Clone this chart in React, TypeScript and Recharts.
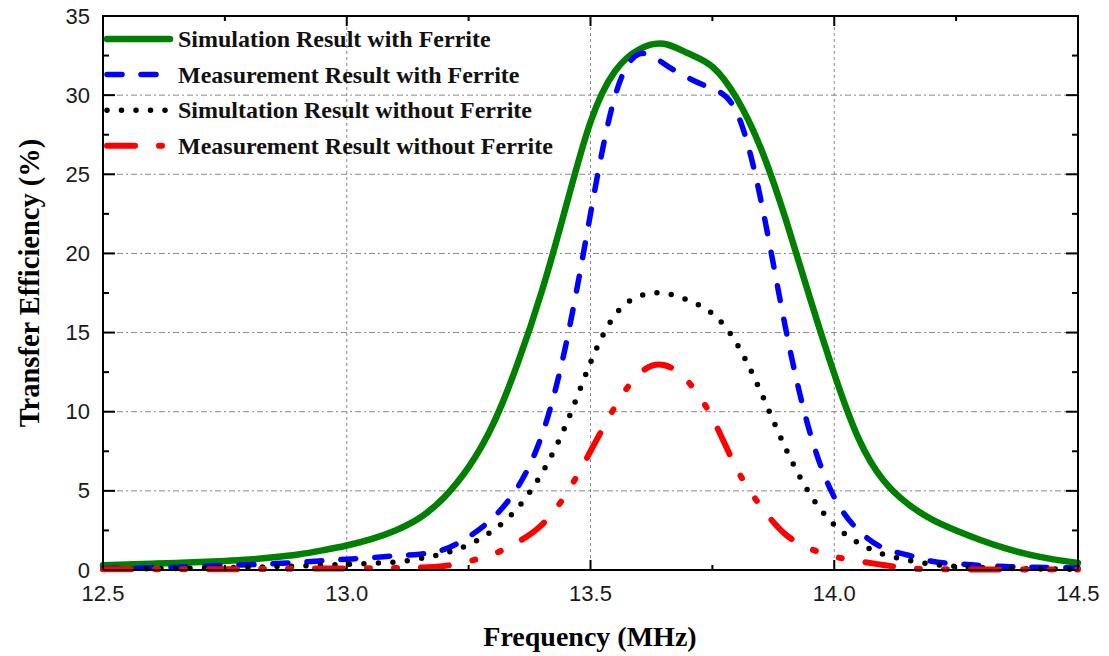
import React from "react";
import { Line, LineChart, ReferenceLine, XAxis, YAxis } from "recharts";

// frequency samples (MHz)
const freqs = [
  12.5, 12.55, 12.6, 12.65, 12.7, 12.75, 12.8, 12.85, 12.9, 12.95,
  13.0, 13.05, 13.1, 13.15, 13.2, 13.25, 13.3, 13.35, 13.4, 13.45,
  13.5, 13.55, 13.6, 13.65, 13.7, 13.75, 13.8, 13.85, 13.9, 13.95,
  14.0, 14.05, 14.1, 14.15, 14.2, 14.25, 14.3, 14.35, 14.4, 14.45, 14.5,
];

const simWithFerrite = [
  0.3, 0.35, 0.4, 0.45, 0.5, 0.57, 0.66, 0.8, 0.98, 1.24,
  1.55, 1.95, 2.5, 3.3, 4.6, 6.5, 9.2, 13.0, 17.6, 23.0,
  28.3, 31.5, 32.9, 33.25, 32.65, 31.8, 29.8, 26.6, 22.2, 17.2,
  12.4, 8.3, 5.7, 4.2, 3.2, 2.5, 1.9, 1.38, 0.97, 0.67, 0.45,
];

const measWithFerrite = [
  0.1, 0.12, 0.15, 0.18, 0.22, 0.28, 0.33, 0.4, 0.48, 0.58,
  0.68, 0.78, 0.9, 1.0, 1.3, 2.1, 3.3, 5.2, 8.5, 14.3,
  22.5, 29.9, 32.6, 32.0, 31.1, 30.4, 28.9, 23.3, 15.3, 8.7,
  4.6, 2.5, 1.4, 0.95, 0.55, 0.4, 0.28, 0.22, 0.18, 0.15, 0.12,
];

const simWithoutFerrite = [
  0.05, 0.06, 0.08, 0.1, 0.12, 0.15, 0.18, 0.21, 0.25, 0.3,
  0.35, 0.42, 0.5, 0.72, 1.05, 1.6, 2.5, 3.9, 6.1, 9.2,
  13.1, 16.1, 17.3, 17.5, 17.05, 16.2, 14.3, 11.2, 7.7, 4.8,
  2.85, 1.7, 1.0, 0.63, 0.37, 0.22, 0.14, 0.1, 0.08, 0.06, 0.05,
];

const measWithoutFerrite = [
  0.05, 0.05, 0.05, 0.05, 0.05, 0.05, 0.06, 0.07, 0.08, 0.09,
  0.1, 0.11, 0.12, 0.15, 0.25, 0.55, 1.0, 1.75, 2.85, 4.8,
  7.5, 10.3, 12.4, 12.95, 11.9, 9.6, 6.4, 4.0, 2.25, 1.35,
  0.85, 0.55, 0.32, 0.12, 0.05, 0.04, 0.03, 0.03, 0.03, 0.03, 0.03,
];

const xTicks = [12.5, 12.75, 13, 13.25, 13.5, 13.75, 14, 14.25, 14.5];
const xMajor = [12.5, 13, 13.5, 14, 14.5];
const xGrid = [13, 13.5, 14];
const yTicks = [0, 2.5, 5, 7.5, 10, 12.5, 15, 17.5, 20, 22.5, 25, 27.5, 30, 32.5, 35];
const yMajor = [0, 5, 10, 15, 20, 25, 30, 35];
const yGrid = [5, 10, 15, 20, 25, 30];
const xMin = 12.5;
const xMax = 14.5;
const yMax = 35;

const series = [
  { key: "s1", name: "Simulation Result with Ferrite", values: simWithFerrite, color: "#008000", width: 6.5, dash: undefined },
  { key: "s2", name: "Measurement Result with Ferrite", values: measWithFerrite, color: "#0000ff", width: 5.5, dash: "15 19" },
  { key: "s3", name: "Simultation Result without Ferrite", values: simWithoutFerrite, color: "#000000", width: 5.5, dash: "0 14.5" },
  { key: "s4", name: "Measurement Result without Ferrite", values: measWithoutFerrite, color: "#ff0000", width: 6, dash: "28 24 3 24 3 24" },
];

const data = freqs.map((f, i) => {
  const row: Record<string, number> = { f };
  series.forEach((s) => (row[s.key] = s.values[i]));
  return row;
});

// chart layout
const W = 1109;
const H = 656;
const margin = { top: 16, right: 31, bottom: 56, left: 3 };
const yAxisWidth = 100;
const xAxisHeight = 30;
const plot = {
  left: margin.left + yAxisWidth,
  top: margin.top,
  right: W - margin.right,
  bottom: H - margin.bottom - xAxisHeight,
};
const px = (v: number) => plot.left + ((v - xMin) / (xMax - xMin)) * (plot.right - plot.left);
const py = (v: number) => plot.bottom - (v / yMax) * (plot.bottom - plot.top);

const tickFont = { fontFamily: "'Liberation Sans', Arial, sans-serif", fontSize: 22, fill: "#1a1a1a" };

function BottomTick({ x, y, payload }: any) {
  const major = xMajor.includes(payload.value);
  return (
    <g>
      <rect x={x - 1} y={y - (major ? 10 : 5)} width={2} height={major ? 10 : 5} fill="#000" />
      {major && (
        <text x={x} y={y + 23} textAnchor="middle" dominantBaseline="central" {...tickFont}>
          {payload.value.toFixed(1)}
        </text>
      )}
    </g>
  );
}

function LeftTick({ x, y, payload }: any) {
  const major = yMajor.includes(payload.value);
  return (
    <g>
      <rect x={x} y={y - 1} width={major ? 12 : 6} height={2} fill="#000" />
      {major && (
        <text x={x - 13} y={y} textAnchor="end" dominantBaseline="central" {...tickFont}>
          {payload.value}
        </text>
      )}
    </g>
  );
}

const serif = "'Liberation Serif', 'Times New Roman', serif";

export default function App() {
  return (
    <div style={{ position: "absolute", left: 0, top: 0, width: W, height: H, background: "#fff" }}>
      <LineChart width={W} height={H} data={data} margin={margin}>
        {xGrid.map((v) => (
          <ReferenceLine key={"x" + v} x={v} stroke="#888" strokeWidth={1} strokeDasharray="3 3" />
        ))}
        {yGrid.map((v) => (
          <ReferenceLine key={"y" + v} y={v} stroke="#888" strokeWidth={1} strokeDasharray="6 3 2 3" />
        ))}
        <XAxis
          dataKey="f"
          type="number"
          domain={[xMin, xMax]}
          ticks={xTicks}
          interval={0}
          height={xAxisHeight}
          tickSize={0}
          tickMargin={0}
          tick={BottomTick}
          axisLine={{ stroke: "#000", strokeWidth: 2 }}
        />
        <YAxis
          type="number"
          domain={[0, yMax]}
          ticks={yTicks}
          interval={0}
          width={yAxisWidth}
          tickSize={0}
          tickMargin={0}
          tick={LeftTick}
          axisLine={{ stroke: "#000", strokeWidth: 2 }}
        />
        {series.map((s) => (
          <Line
            key={s.key}
            type="natural"
            dataKey={s.key}
            name={s.name}
            stroke={s.color}
            strokeWidth={s.width}
            strokeDasharray={s.dash}
            strokeLinecap="round"
            dot={false}
            activeDot={false}
            isAnimationActive={false}
          />
        ))}
      </LineChart>
      {/* top and right frame edges as an HTML box border */}
      <div
        style={{
          position: "absolute",
          left: plot.left - 1,
          top: plot.top - 1,
          width: plot.right - plot.left,
          height: plot.bottom - plot.top,
          borderTop: "2px solid #000",
          borderRight: "2px solid #000",
          pointerEvents: "none",
        }}
      />
      <svg width={W} height={H} style={{ position: "absolute", left: 0, top: 0, pointerEvents: "none" }}>
        {xTicks.map((v) => (
          <rect key={"tt" + v} x={px(v) - 1} y={plot.top} width={2} height={xMajor.includes(v) ? 10 : 5} fill="#000" />
        ))}
        {yTicks.map((v) => (
          <rect
            key={"rt" + v}
            x={plot.right - (yMajor.includes(v) ? 12 : 6)}
            y={py(v) - 1}
            width={yMajor.includes(v) ? 12 : 6}
            height={2}
            fill="#000"
          />
        ))}
        <text x={590} y={636} textAnchor="middle" dominantBaseline="central" fontFamily={serif} fontWeight="bold" fontSize={28} fill="#000">
          Frequency (MHz)
        </text>
        <text
          x={29}
          y={283}
          transform="rotate(-90 29 283)"
          textAnchor="middle"
          dominantBaseline="central"
          fontFamily={serif}
          fontWeight="bold"
          fontSize={28.5}
          fill="#000"
        >
          Transfer Efficiency (%)
        </text>
        {series.map((s, i) => {
          const cy = 39 + i * 35.6;
          return (
            <g key={s.key}>
              <line
                x1={107}
                x2={170}
                y1={cy}
                y2={cy}
                stroke={s.color}
                strokeWidth={s.width}
                strokeDasharray={s.dash}
                strokeLinecap="round"
              />
              <text x={178} y={cy} dominantBaseline="central" fontFamily={serif} fontWeight="bold" fontSize={24} fill="#111">
                {s.name}
              </text>
            </g>
          );
        })}
      </svg>
    </div>
  );
}
